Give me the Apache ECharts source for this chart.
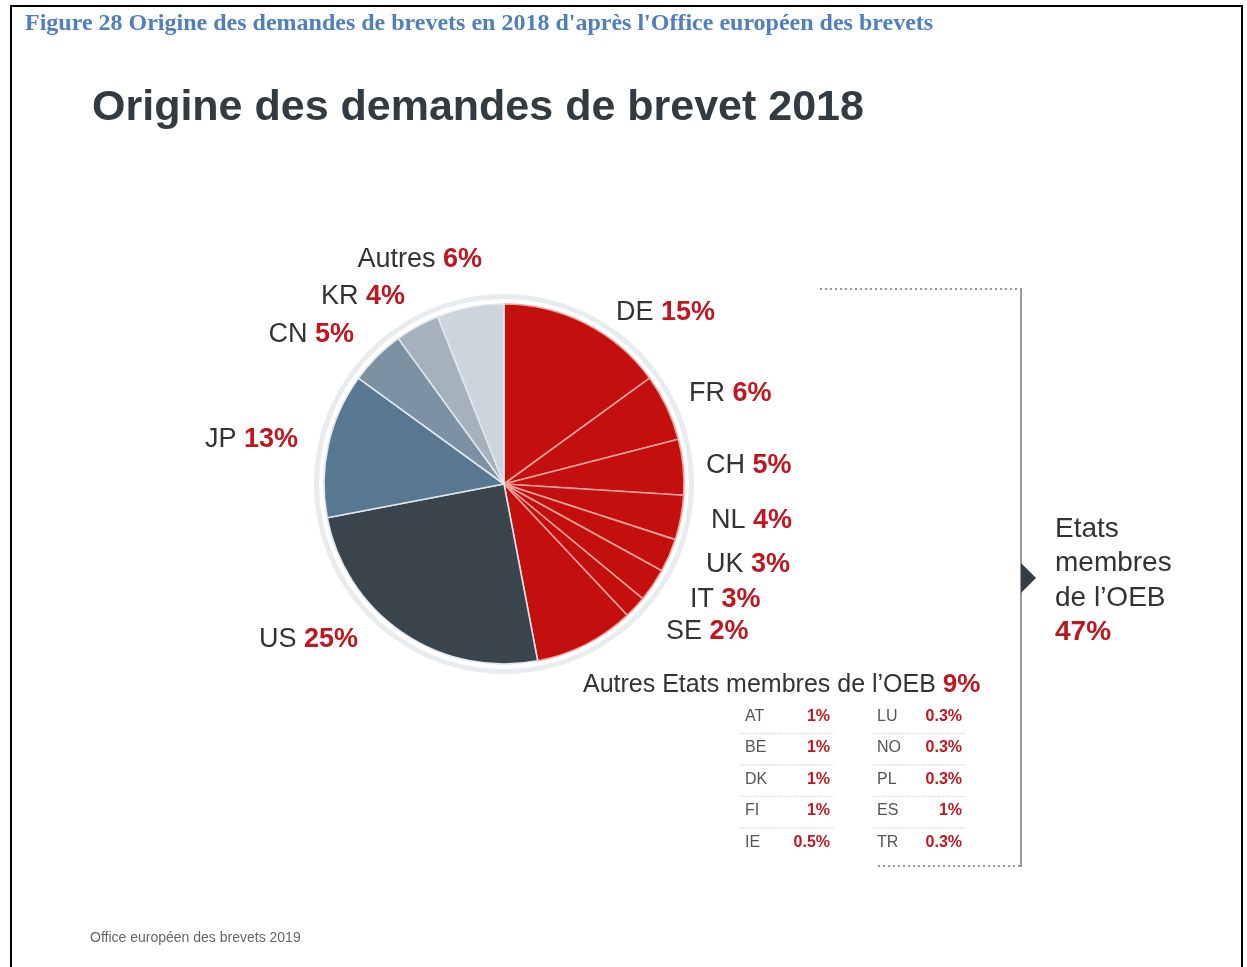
<!DOCTYPE html>
<html>
<head>
<meta charset="utf-8">
<script src="https://cdn.jsdelivr.net/npm/echarts@6/dist/echarts.min.js"></script>
<style>
html,body{margin:0;padding:0;background:#fff;}
#chart{width:1247px;height:967px;}
</style>
</head>
<body>
<div id="chart"></div>
<script>
// ---- data ----
const categories = ['DE', 'FR', 'CH', 'NL', 'UK', 'IT', 'SE', "Autres Etats membres de l'OEB", 'US', 'JP', 'CN', 'KR', 'Autres'];
const shares = [15, 6, 5, 4, 3, 3, 2, 9, 25, 13, 5, 4, 6];
const epoMemberCount = 8; // first 8 categories are EPO member states
const otherEpoNamesCol1 = ['AT', 'BE', 'DK', 'FI', 'IE'];
const otherEpoValuesCol1 = [1, 1, 1, 1, 0.5];
const otherEpoNamesCol2 = ['LU', 'NO', 'PL', 'ES', 'TR'];
const otherEpoValuesCol2 = [0.3, 0.3, 0.3, 1, 0.3];

// ---- styles ----
const RED = '#c3100f';
const VAL_RED = '#bf1620';
const TXT = '#333333';
const sliceColors = [RED, RED, RED, RED, RED, RED, RED, RED, '#39444d', '#587790', '#7c92a3', '#a5b2bd', '#cdd5dc'];
const borderColors = ['#f2a09a', '#f2a09a', '#f2a09a', '#f2a09a', '#f2a09a', '#f2a09a', '#f2a09a', '#f2a09a', '#dfe7ee', '#dfe7ee', '#dfe7ee', '#dfe7ee', '#dfe7ee'];
// label anchors [align, x, y]
const labelAnchors = [
  ['left', 616, 313], ['left', 689, 394], ['left', 706, 466], ['left', 711, 521],
  ['left', 706, 565], ['left', 690, 600], ['left', 666, 632], ['left', 583, 685],
  ['right', 358, 640], ['right', 298, 440], ['right', 354, 335], ['right', 405, 297], ['right', 482, 260]
];

const FONT = '"Liberation Sans", Arial, sans-serif';
const chart = echarts.init(document.getElementById('chart'), null, {renderer: 'canvas'});

const pieData = categories.map((c, i) => ({
  name: c,
  value: shares[i],
  itemStyle: {color: sliceColors[i], borderColor: borderColors[i], borderWidth: 1.6},
  label: i === 7 ? {rich: {n: {fontSize: 25, color: TXT, fontFamily: FONT}, v: {fontSize: 26, fontWeight: 'bold', color: VAL_RED, fontFamily: FONT}}} : undefined
}));

const epoTotal = shares.slice(0, epoMemberCount).reduce((a, b) => a + b, 0);

function fmtPct(v) { return v + '%'; }

const graphics = [];
// page border
graphics.push({type: 'rect', shape: {x: 11, y: 6, width: 1231, height: 1000}, style: {fill: null, stroke: '#000', lineWidth: 2}, silent: true});
// caption
graphics.push({type: 'text', left: 25, top: 12, style: {text: "Figure 28 Origine des demandes de brevets en 2018 d'après l'Office européen des brevets", font: 'bold 24px "Liberation Serif", "Times New Roman", serif', fill: '#4f7fc0'}});
// title
graphics.push({type: 'text', left: 92, top: 87, style: {text: 'Origine des demandes de brevet 2018', font: 'bold 43px ' + FONT, fill: '#333a40'}});
// footer
graphics.push({type: 'text', left: 90, top: 931, style: {text: 'Office européen des brevets 2019', font: '14px ' + FONT, fill: '#666'}});
// bracket
graphics.push({type: 'line', shape: {x1: 820, y1: 289, x2: 1020, y2: 289}, style: {stroke: '#9a9a9a', lineWidth: 2, lineDash: [2, 3]}});
graphics.push({type: 'line', shape: {x1: 1021, y1: 288, x2: 1021, y2: 867}, style: {stroke: '#9a9a9a', lineWidth: 2}});
graphics.push({type: 'line', shape: {x1: 878, y1: 866, x2: 1020, y2: 866}, style: {stroke: '#9a9a9a', lineWidth: 2, lineDash: [2, 3]}});
graphics.push({type: 'polygon', shape: {points: [[1021, 563], [1036, 578], [1021, 593]]}, style: {fill: '#333d45'}});
graphics.push({type: 'text', left: 1055, top: 515, style: {
  text: '{n|Etats}\n{n|membres}\n{n|de l\u2019OEB}\n{v|' + epoTotal + '%}',
  rich: {n: {fontSize: 28, fontFamily: FONT, fill: TXT, lineHeight: 34.5}, v: {fontSize: 28, fontWeight: 'bold', fontFamily: FONT, fill: VAL_RED, lineHeight: 34.5}}
}});
// sub-table for other EPO states
const rowY = [717, 748, 780, 811, 843];
function addCol(names, vals, xName, xVal, x1, x2) {
  names.forEach((n, i) => {
    graphics.push({type: 'text', x: xName, y: rowY[i], style: {text: n, font: '16px ' + FONT, fill: '#555', verticalAlign: 'middle', align: 'left'}});
    graphics.push({type: 'text', x: xVal, y: rowY[i], style: {text: fmtPct(vals[i]), font: 'bold 16px ' + FONT, fill: VAL_RED, verticalAlign: 'middle', align: 'right'}});
    if (i < names.length - 1) {
      const ly = (rowY[i] + rowY[i + 1]) / 2 + 1;
      graphics.push({type: 'line', shape: {x1: x1, y1: ly, x2: x2, y2: ly}, style: {stroke: '#cfcfcf', lineWidth: 1.5, lineDash: [1, 1.5]}});
    }
  });
}
addCol(otherEpoNamesCol1, otherEpoValuesCol1, 745, 830, 740, 833);
addCol(otherEpoNamesCol2, otherEpoValuesCol2, 877, 962, 873, 966);

const option = {
  backgroundColor: '#fff',
  animation: false,
  graphic: graphics,
  series: [
    {
      type: 'pie', silent: true, center: [504, 484], radius: [185, 190],
      label: {show: false}, labelLine: {show: false},
      data: [{value: 1, itemStyle: {color: '#e8ecef'}}]
    },
    {
      type: 'pie',
      center: [504, 484],
      radius: [0, 180],
      startAngle: 90,
      clockwise: true,
      silent: true,
      data: pieData,
      labelLine: {show: false},
      label: {
        show: true,
        position: 'outside',
        formatter: p => '{n|' + p.name.replace("l'", 'l\u2019') + ' }{v|' + p.value + '%}',
        rich: {
          n: {fontSize: 27, color: TXT, fontFamily: FONT},
          v: {fontSize: 27, fontWeight: 'bold', color: VAL_RED, fontFamily: FONT}
        }
      },
      labelLayout: function (p) {
        const a = labelAnchors[p.dataIndex];
        return {x: a[1], y: a[2], align: a[0], verticalAlign: 'middle'};
      }
    }
  ]
};
chart.setOption(option);
</script>
</body>
</html>
